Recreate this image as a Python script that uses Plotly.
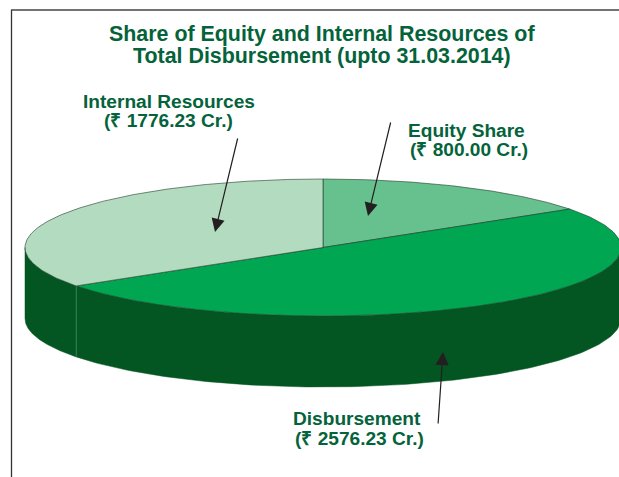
import numpy as np
import plotly.graph_objects as go

# Data
categories = ["Equity Share", "Disbursement", "Internal Resources"]
values = [800.00, 2576.23, 1776.23]
value_labels = ["(₹ 800.00 Cr.)", "(₹ 2576.23 Cr.)", "(₹ 1776.23 Cr.)"]
title_lines = ["Share of Equity and Internal Resources of",
               "Total Disbursement (upto 31.03.2014)"]

# Style / layout
W, H = 619, 477
CX, CY, RX, RY, DEPTH = 323, 247.5, 298, 68.5, 71
TOP_COLORS = ["#66c18e", "#00a651", "#b3dbbf"]
SIDE_COLOR = "#035622"
TEXT_COLOR = "#04633a"
LINE_COLOR = "#1f3a2a"
FONT = "Liberation Sans, Arial, sans-serif"
TITLE_SIZE = 21.4
LABEL_SIZE = 19.1


def pt(theta_deg, drop=0.0):
    t = np.radians(theta_deg)
    return CX + RX * np.sin(t), CY - RY * np.cos(t) + drop


fig = go.Figure()

total = sum(values)
edges = np.concatenate([[0], np.cumsum(values) / total * 360])


def side(a, b):
    th = np.linspace(a, b, 120)
    x1, y1 = pt(th)
    x2, y2 = pt(th[::-1], DEPTH)
    return np.r_[x1, x2, x1[0]], np.r_[y1, y2, y1[0]]


# side walls (only the front half is visible)
for a, b in [(90, edges[2]), (edges[2], 270)]:
    x, y = side(a, b)
    fig.add_trace(go.Scatter(x=x, y=y, mode="lines", fill="toself",
                             fillcolor=SIDE_COLOR, line=dict(color=SIDE_COLOR, width=0.5)))

# divider on the wall
dx0, dy0 = pt(edges[2])
dx1, dy1 = pt(edges[2], DEPTH)
fig.add_trace(go.Scatter(x=[dx0, dx1], y=[dy0, dy1], mode="lines",
                         line=dict(color="#3f8a5c", width=0.8)))

# top slices
for i, name in enumerate(categories):
    th = np.linspace(edges[i], edges[i + 1], 200)
    x, y = pt(th)
    fig.add_trace(go.Scatter(x=np.r_[CX, x, CX], y=np.r_[CY, y, CY], mode="lines",
                             fill="toself", fillcolor=TOP_COLORS[i], name=name,
                             line=dict(color=LINE_COLOR, width=0.6)))


def txt(x, y, s, size):
    fig.add_annotation(x=x, y=y, xref="x", yref="y", text=s, showarrow=False,
                       xanchor="center", yanchor="middle",
                       font=dict(family=FONT, size=size, color=TEXT_COLOR, weight="bold"))


txt(322, 34, title_lines[0], TITLE_SIZE)
txt(322, 56, title_lines[1], TITLE_SIZE)
txt(168.5, 101, categories[2], LABEL_SIZE)
txt(168.5, 120, value_labels[2], LABEL_SIZE)
txt(466.5, 130.5, categories[0], LABEL_SIZE)
txt(468.5, 149.5, value_labels[0], LABEL_SIZE)
txt(356.5, 418.5, categories[1], LABEL_SIZE)
txt(359, 438, value_labels[1], LABEL_SIZE)

# leader arrows
for (tx, ty, hx, hy) in [(238, 137, 215, 232), (391, 121, 368, 216), (438, 425, 443, 352)]:
    fig.add_annotation(x=hx, y=hy, ax=tx, ay=ty, xref="x", yref="y", axref="x", ayref="y",
                       text="", showarrow=True, arrowhead=2, arrowsize=2.2,
                       arrowwidth=1.2, arrowcolor="#231f20", standoff=0)

# frame
fig.add_shape(type="line", x0=11.5, y0=10, x1=11.5, y1=H, line=dict(color="#333333", width=1.3))
fig.add_shape(type="line", x0=11, y0=10, x1=W, y1=10, line=dict(color="#444444", width=1.3))

fig.update_xaxes(range=[0, W], visible=False)
fig.update_yaxes(range=[H, 0], visible=False)
fig.update_layout(width=W, height=H, margin=dict(l=0, r=0, t=0, b=0),
                  paper_bgcolor="white", plot_bgcolor="white", showlegend=False,
                  hovermode=False)
fig.write_html("out.html", config={"displayModeBar": False},
               post_script="document.body.style.margin='0';document.body.style.overflow='hidden';")
